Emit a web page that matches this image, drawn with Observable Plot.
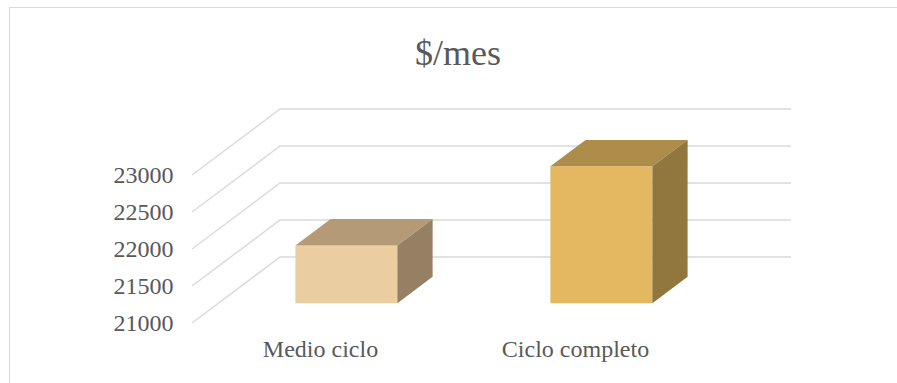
<!DOCTYPE html>
<html>
<head>
<meta charset="utf-8">
<script src="https://cdn.jsdelivr.net/npm/d3@7"></script>
<script src="https://cdn.jsdelivr.net/npm/@observablehq/plot@0.6"></script>
<style>
  html, body { margin: 0; padding: 0; background: #fff; }
  #wrap { position: relative; width: 897px; height: 383px; overflow: hidden; }
  #border { position: absolute; left: 9px; top: 7px; width: 900px; height: 400px;
            border-top: 1.5px solid #d9d9d9; border-left: 1.5px solid #d9d9d9; pointer-events: none; }
</style>
</head>
<body>
<div id="wrap"><div id="border"></div></div>
<script>
// ---- data ----
const categories = ["Medio ciclo", "Ciclo completo"];
const values = [21780, 22850];
const yTicks = [21000, 21500, 22000, 22500, 23000];
const title = "$/mes";

// ---- styles ----
const fontFamily = "'Liberation Serif', 'Times New Roman', serif";
const frontColors = ["#eacda1", "#e4b861"];
const topColors = ["#b59a78", "#ae8c4a"];
const sideColors = ["#958063", "#91773e"];
const gridColor = "#d9d9d9";
const textColor = "#595959";
// oblique depth of the 3D box (pixels), and bar depth fraction
const DX = 88, DY = -66, D0 = 0.3, D1 = 0.7;

const data = categories.map((c, i) => ({cat: c, value: values[i], i}));
const base = yTicks[0];

const gridRender = (index, scales, vals, dims) => {
  const g = d3.create("svg:g");
  const x0 = dims.marginLeft, x1 = dims.width - dims.marginRight;
  for (const i of index) {
    const y = scales.y(yTicks[i]);
    g.append("path")
      .attr("d", `M${x0},${y}L${x0 + DX},${y + DY}L${x1 + DX},${y + DY}`)
      .attr("fill", "none").attr("stroke", gridColor).attr("stroke-width", 1.4);
  }
  return g.node();
};

const barRender = (index, scales) => {
  const g = d3.create("svg:g");
  const w = scales.x.bandwidth();
  const ddx = DX * (D1 - D0), ddy = DY * (D1 - D0);
  for (const i of index) {
    const d = data[i];
    const xf = scales.x(d.cat) + DX * D0;
    const yt = scales.y(d.value) + DY * D0;
    const yb = scales.y(base) + DY * D0;
    g.append("rect").attr("x", xf).attr("y", yt).attr("width", w).attr("height", yb - yt)
      .attr("fill", frontColors[i]);
    g.append("path")
      .attr("d", `M${xf},${yt}L${xf + w},${yt}L${xf + w + ddx},${yt + ddy}L${xf + ddx},${yt + ddy}Z`)
      .attr("fill", topColors[i]);
    g.append("path")
      .attr("d", `M${xf + w},${yt}L${xf + w + ddx},${yt + ddy}L${xf + w + ddx},${yb + ddy}L${xf + w},${yb}Z`)
      .attr("fill", sideColors[i]);
  }
  return g.node();
};

const chart = Plot.plot({
  width: 897,
  height: 383,
  marginLeft: 192,
  marginRight: 194,
  marginTop: 175,
  marginBottom: 60,
  style: {fontFamily, fontSize: "24px", color: textColor, background: "transparent"},
  x: {type: "band", domain: categories, paddingInner: 0.6, paddingOuter: 0.3, label: null},
  y: {domain: [21000, 23000], label: null},
  marks: [
    Plot.ruleY(yTicks, {y: d => d, render: gridRender}),
    Plot.barY(data, {x: "cat", y1: base, y2: "value", render: barRender}),
    Plot.axisY(yTicks, {tickSize: 0, tickPadding: 19, tickFormat: d3.format("d"), label: null, fontSize: 24, fontFamily}),
    Plot.axisX({tickSize: 0, tickPadding: 16, label: null, fontSize: 24, fontFamily}),
    Plot.text([title], {frameAnchor: "top", dx: 10, dy: -136, fontSize: 36, fontFamily, fill: textColor})
  ]
});
document.getElementById("wrap").prepend(chart);
</script>
</body>
</html>
